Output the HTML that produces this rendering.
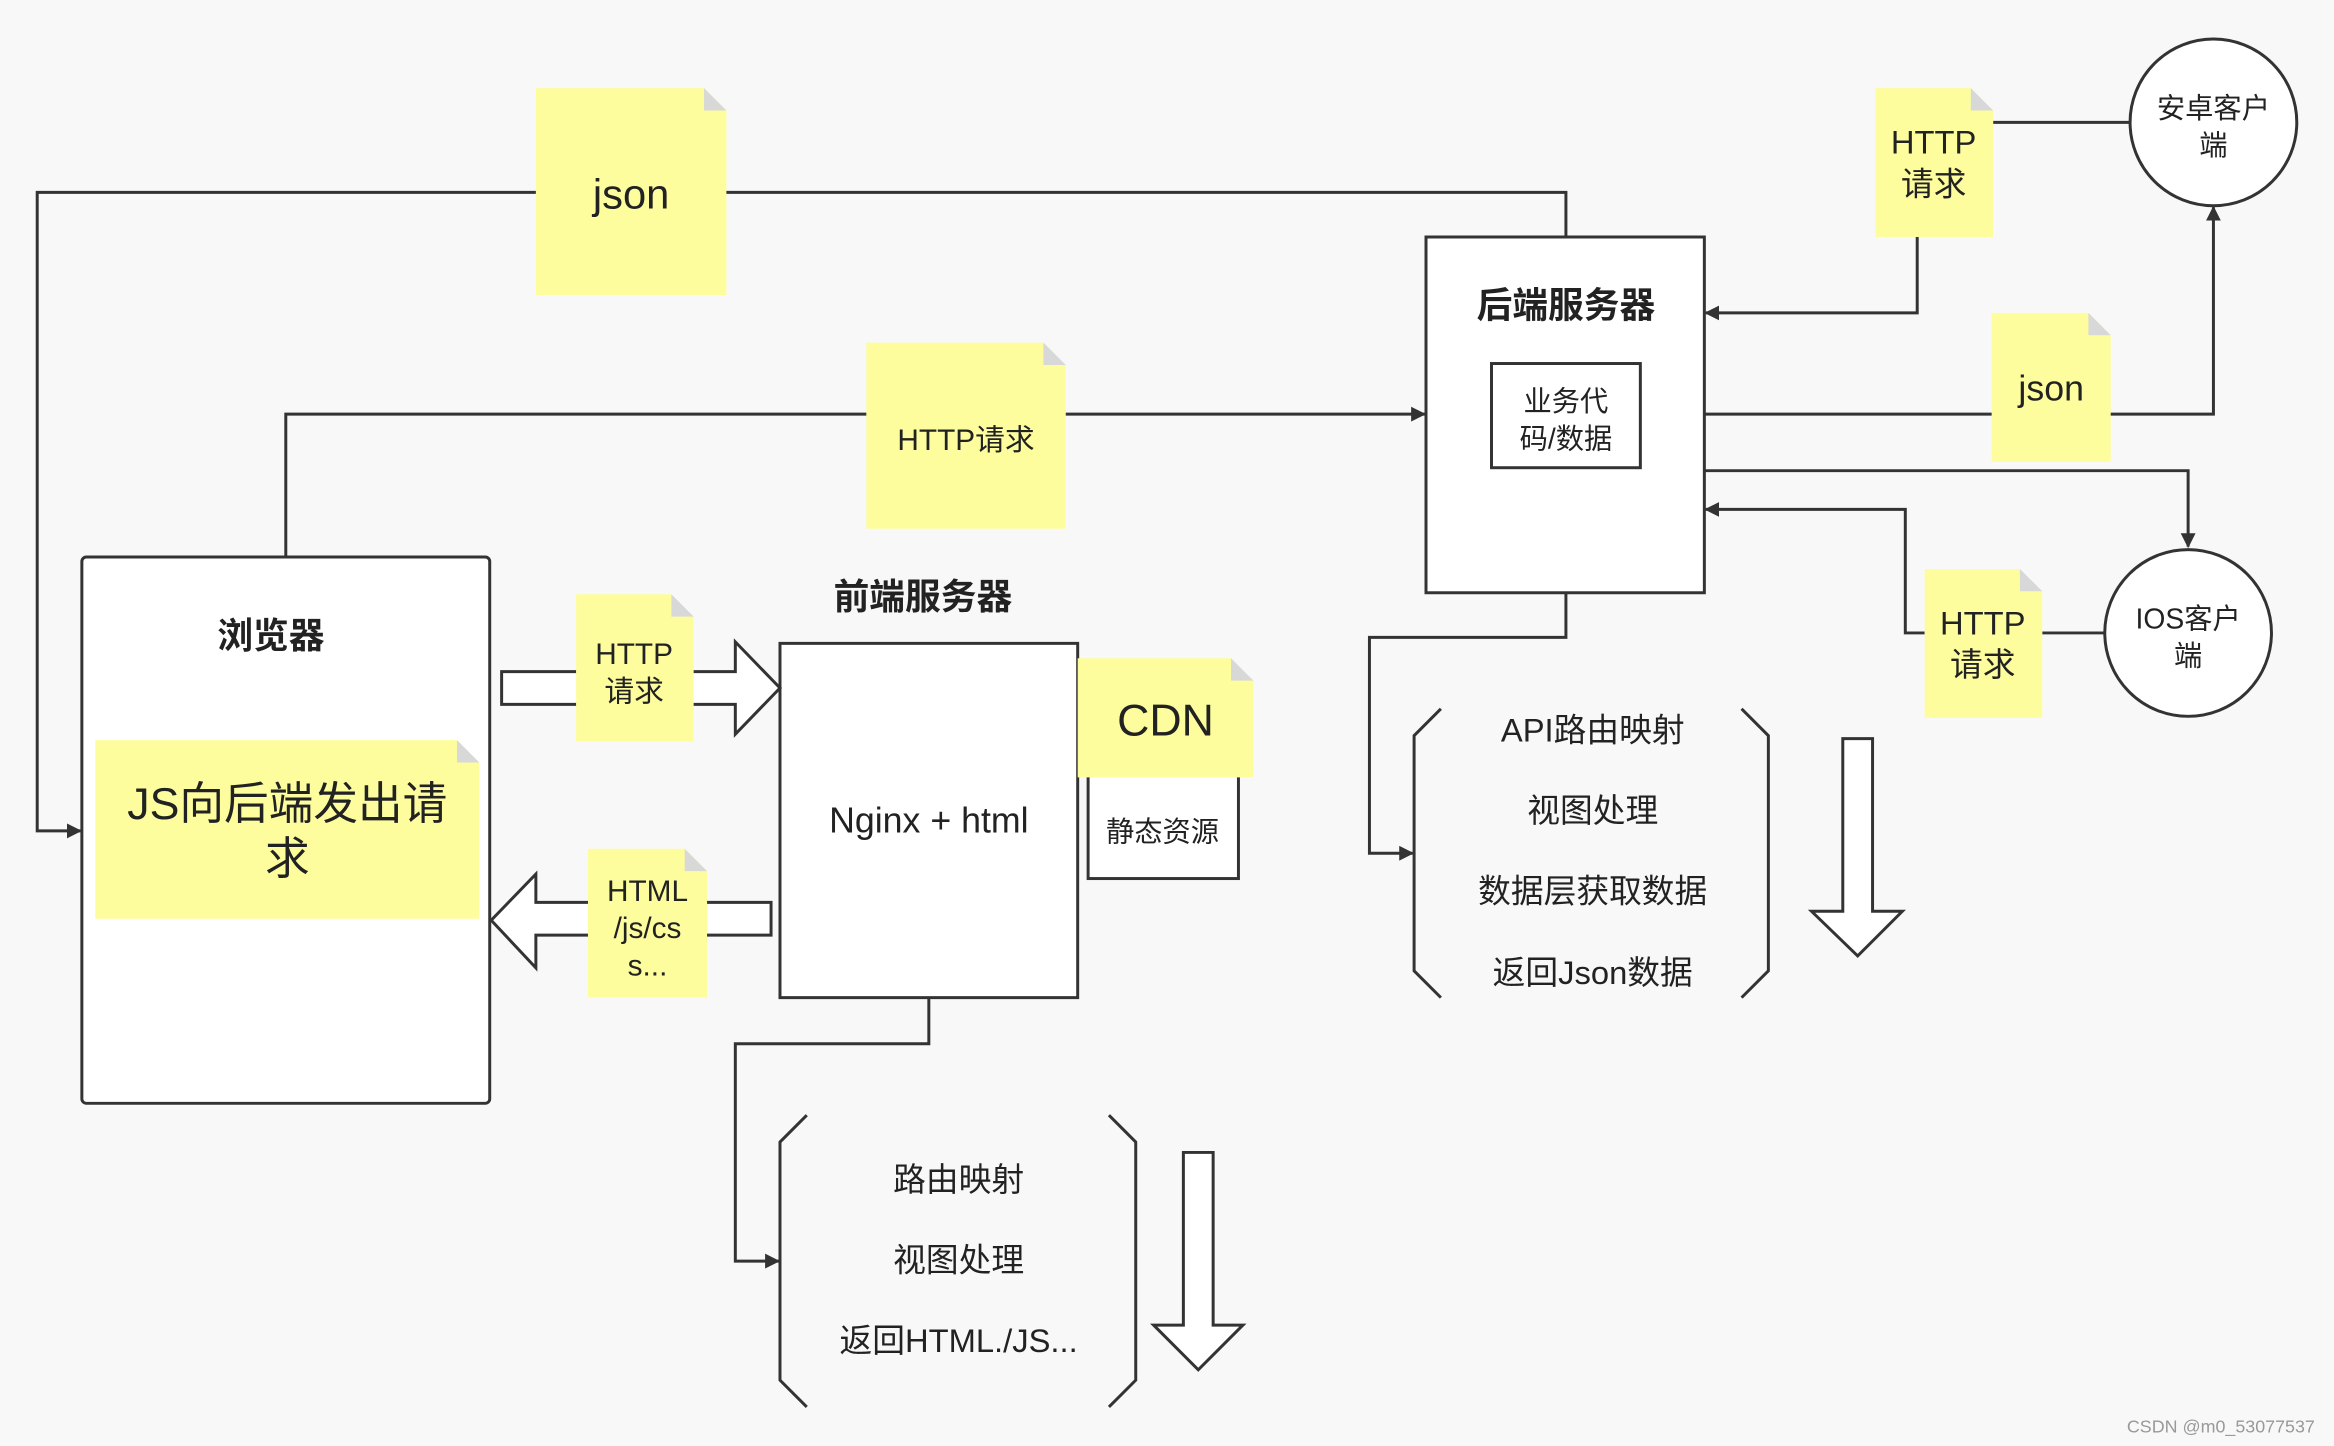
<!DOCTYPE html>
<html><head><meta charset="utf-8"><style>
html,body{margin:0;padding:0;background:#f8f8f8;}
svg{display:block;}
text{font-family:"Liberation Sans","Noto Sans CJK SC",sans-serif;fill:#222;text-anchor:middle;}
.b{font-weight:bold;}
</style></head><body>
<svg width="2334" height="1446" viewBox="0 0 1568 971" xmlns="http://www.w3.org/2000/svg">
<defs>
<marker id="a" markerWidth="10" markerHeight="10" refX="9" refY="5" orient="auto" markerUnits="userSpaceOnUse">
<path d="M0,0 L10,5 L0,10 z" fill="#333"/></marker>
</defs>
<rect width="1568" height="971" fill="#f8f8f8"/>
<g fill="none" stroke="#333" stroke-width="2">
<!-- connectors -->
<path d="M1052,159 V129 H25 V558 H54" marker-end="url(#a)"/>
<path d="M192,374 V278 H957" marker-end="url(#a)"/>
<path d="M1432,82 H1339 M1288,159 V210 H1146" marker-end="url(#a)"/>
<path d="M1145,278 H1487 V139" marker-end="url(#a)"/>
<path d="M1145,316 H1470 V367" marker-end="url(#a)"/>
<path d="M1414,425 H1372 M1293,425 H1280 V342 H1146" marker-end="url(#a)"/>
<path d="M1052,398 V428 H920 V573 H949" marker-end="url(#a)"/>
<path d="M624,670 V701 H494 V847 H523" marker-end="url(#a)"/>
<!-- boxes -->
<rect x="55" y="374" width="274" height="367" rx="3" fill="#fff"/>
<rect x="958" y="159" width="187" height="239" fill="#fff"/>
<rect x="1002" y="244" width="100" height="70" fill="#fff"/>
<rect x="524" y="432" width="200" height="238" fill="#fff"/>
<rect x="731" y="515" width="101" height="75" fill="#fff"/>
<circle cx="1487" cy="82" r="56" fill="#fff"/>
<circle cx="1470" cy="425" r="56" fill="#fff"/>
<!-- brackets -->
<path d="M968,476 L950,494 V652 L968,670 M1170,476 L1188,494 V652 L1170,670"/>
<path d="M542,749 L524,767 V927 L542,945 M745,749 L763,767 V927 L745,945"/>
<!-- hollow arrows -->
<path d="M1238,496 H1258 V612 H1278 L1248,642 L1217,612 H1238 Z" fill="#fff"/>
<path d="M795,774 H815 V890 H835 L805,920 L775,890 H795 Z" fill="#fff"/>
<path d="M337,451 H494 V431 L524,462 L494,493 V473 H337 Z" fill="#fff"/>
<path d="M518,606 H360 V587 L330,618 L360,650 V628 H518 Z" fill="#fff"/>
</g>
<!-- sticky notes -->
<g fill="#fdfd9e">
<path d="M360,59 H473 L488,74 V198 H360 Z"/>
<path d="M582,230 H701 L716,245 V355 H582 Z"/>
<path d="M1260,59 H1324 L1339,74 V159 H1260 Z"/>
<path d="M1338,210 H1403 L1418,225 V310 H1338 Z"/>
<path d="M1293,382 H1357 L1372,397 V482 H1293 Z"/>
<path d="M64,497 H307 L322,512 V617 H64 Z"/>
<path d="M387,399 H451 L466,414 V498 H387 Z"/>
<path d="M395,570 H460 L475,585 V670 H395 Z"/>
<path d="M724,442 H827 L842,457 V522 H724 Z"/>
</g>
<g fill="#d8d8d8">
<path d="M473,59 L488,74 H473 Z"/><path d="M701,230 L716,245 H701 Z"/>
<path d="M1324,59 L1339,74 H1324 Z"/><path d="M1403,210 L1418,225 H1403 Z"/>
<path d="M1357,382 L1372,397 H1357 Z"/><path d="M307,497 L322,512 H307 Z"/>
<path d="M451,399 L466,414 H451 Z"/><path d="M460,570 L475,585 H460 Z"/>
<path d="M827,442 L842,457 H827 Z"/>
</g>
<!-- text -->
<text x="424" y="140" font-size="28">json</text>
<text x="649" y="302" font-size="20">HTTP请求</text>
<text x="1299" y="103" font-size="22">HTTP</text>
<text x="1299" y="131" font-size="22">请求</text>
<text x="1378" y="269" font-size="24">json</text>
<text x="1332" y="426" font-size="22">HTTP</text>
<text x="1332" y="454" font-size="22">请求</text>
<text x="193" y="550" font-size="30">JS向后端发出请</text>
<text x="193" y="587" font-size="30">求</text>
<text x="426" y="446" font-size="20">HTTP</text>
<text x="426" y="471" font-size="20">请求</text>
<text x="435" y="605" font-size="20">HTML</text>
<text x="435" y="630" font-size="20">/js/cs</text>
<text x="435" y="655" font-size="20">s...</text>
<text x="783" y="494" font-size="30">CDN</text>
<text x="781" y="565" font-size="19">静态资源</text>
<text x="182" y="435" font-size="24" class="b">浏览器</text>
<text x="1052" y="213" font-size="24" class="b">后端服务器</text>
<text x="620" y="409" font-size="24" class="b">前端服务器</text>
<text x="1052" y="276" font-size="19">业务代</text>
<text x="1052" y="301" font-size="19">码/数据</text>
<text x="1487" y="79" font-size="19">安卓客户</text>
<text x="1487" y="104" font-size="19">端</text>
<text x="1470" y="422" font-size="19">IOS客户</text>
<text x="1470" y="447" font-size="19">端</text>
<text x="624" y="559" font-size="24">Nginx + html</text>
<text x="1070" y="498" font-size="22">API路由映射</text>
<text x="1070" y="552" font-size="22">视图处理</text>
<text x="1070" y="606" font-size="22">数据层获取数据</text>
<text x="1070" y="661" font-size="22">返回Json数据</text>
<text x="644" y="800" font-size="22">路由映射</text>
<text x="644" y="854" font-size="22">视图处理</text>
<text x="644" y="908" font-size="22">返回HTML./JS...</text>
<text x="1492" y="962" font-size="12" fill="#999" style="fill:#999">CSDN @m0_53077537</text>
</svg>
</body></html>
